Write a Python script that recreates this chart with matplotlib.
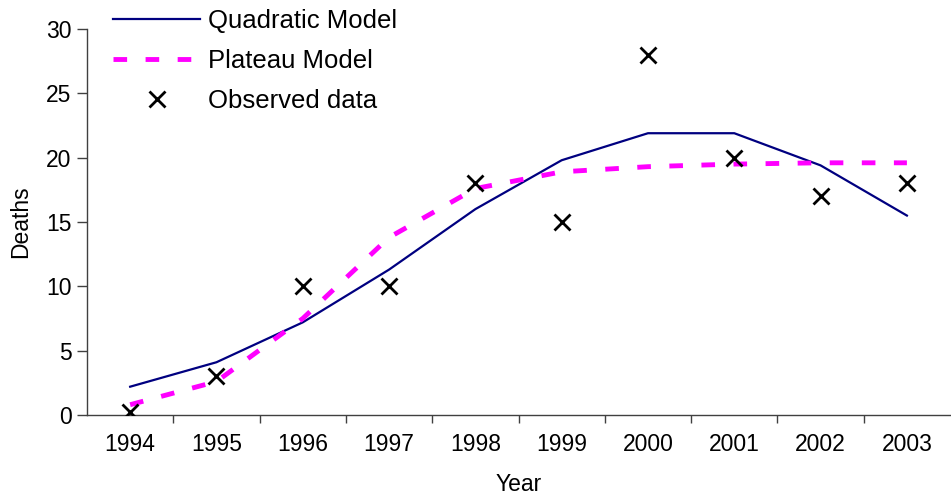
import matplotlib
matplotlib.use("Agg")
import matplotlib.pyplot as plt
import numpy as np

# Dados
anos = ["1994", "1995", "1996", "1997", "1998", "1999", "2000", "2001", "2002", "2003"]
quadratico = [2.2, 4.1, 7.2, 11.3, 16.0, 19.8, 21.9, 21.9, 19.4, 15.5]
plato = [0.8, 2.6, 7.5, 13.8, 17.6, 18.9, 19.3, 19.5, 19.6, 19.6]
observado = [0.2, 3, 10, 10, 18, 15, 28, 20, 17, 18]

plt.rcParams['font.family'] = ['Liberation Sans', 'DejaVu Sans']

fig = plt.figure(figsize=(9.51, 4.99), dpi=100)
ax = fig.add_axes([87 / 951, 1 - 415 / 499, 1 - 87 / 951 - 0.001, (415 - 29) / 499])

x = np.arange(len(anos))
ax.plot(x, quadratico, color='#000080', lw=1.6, label='Quadratic Model', zorder=2)
ax.plot(x, plato, color='#FF00FF', lw=3.5, dashes=(2.8, 3.8), label='Plateau Model', zorder=3)
ax.plot(x, observado, linestyle='none', marker='x', color='black', markersize=11,
        markeredgewidth=2, label='Observed data', zorder=4)

ax.set_xlim(-0.5, len(anos) - 0.5)
ax.set_ylim(0, 30)
ax.set_yticks(range(0, 31, 5))
ax.set_xticks(x)
ax.set_xticklabels(anos)
ax.set_xticks(x[:-1] + 0.5, minor=True)
ax.tick_params(axis='x', which='major', length=0, pad=13, labelsize=16.5)
ax.tick_params(axis='x', which='minor', length=6, direction='out', width=1, color='#404040')
ax.tick_params(axis='y', length=7, width=1, color='#404040', labelsize=16.5, pad=4)

for lado in ['top', 'right']:
    ax.spines[lado].set_visible(False)
for lado in ['left', 'bottom']:
    ax.spines[lado].set_color('#404040')
    ax.spines[lado].set_linewidth(1)

ax.set_xlabel('Year', fontsize=16.5, labelpad=12)
ax.set_ylabel('Deaths', fontsize=16.5, labelpad=10)

fig.legend(loc='upper left', bbox_to_anchor=(113 / 951, 1 - 9 / 499),
           frameon=False, fontsize=18.5, handlelength=3.4, handletextpad=0.3,
           borderpad=0, borderaxespad=0, labelspacing=0.62)

fig.savefig('out.png', dpi=100)
